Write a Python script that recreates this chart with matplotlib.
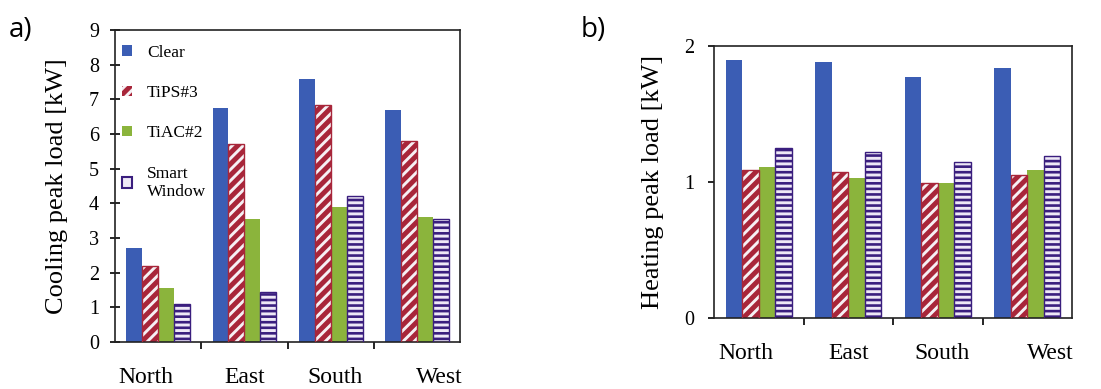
import matplotlib
matplotlib.use("Agg")
import matplotlib.pyplot as plt
from matplotlib.patches import Patch
import numpy as np

plt.rcParams['hatch.linewidth'] = 2.1

directions = ["North", "East", "South", "West"]
series = ["Clear", "TiPS#3", "TiAC#2", "Smart\nWindow"]

cooling_clear = [2.7, 6.75, 7.6, 6.7]
cooling_tips = [2.2, 5.7, 6.85, 5.8]
cooling_tiac = [1.55, 3.55, 3.9, 3.6]
cooling_smart = [1.1, 1.45, 4.2, 3.55]

heating_clear = [1.90, 1.88, 1.77, 1.84]
heating_tips = [1.09, 1.07, 0.99, 1.05]
heating_tiac = [1.11, 1.03, 0.99, 1.09]
heating_smart = [1.25, 1.22, 1.15, 1.19]

cooling_ticks = list(range(0, 10))
heating_ticks = [0, 1, 2]

BLUE = "#3B5DB4"
RED = "#A8263A"
GREEN = "#8BB43C"
PURPLE = "#3A1E7E"
STRIPE_W = "#F6F0F4"
STRIPE_P = "#EEE8F6"

serif = ["Liberation Serif", "DejaVu Serif"]

fig = plt.figure(figsize=(11.01, 3.89), dpi=100)
fig.patch.set_facecolor("white")

ax1 = fig.add_axes([0.1045, 0.1208, 0.3133, 0.8021])
ax2 = fig.add_axes([0.6485, 0.1825, 0.3252, 0.6992])

w = 0.185
offsets = np.array([-1.5, -0.5, 0.5, 1.5]) * w
label_shift = [-0.14, 0.0, 0.05, 0.26]


def draw(ax, vals):
    x = np.arange(len(directions))
    clear, tips, tiac, smart = vals
    ax.bar(x + offsets[0], clear, w, color=BLUE, linewidth=0, zorder=2)
    ax.bar(x + offsets[1], tips, w, color=RED, edgecolor=STRIPE_W,
           hatch="///", linewidth=0, zorder=2)
    ax.bar(x + offsets[1], tips, w, facecolor="none", edgecolor=RED,
           linewidth=1.0, zorder=3)
    ax.bar(x + offsets[2], tiac, w, color=GREEN, linewidth=0, zorder=2)
    ax.bar(x + offsets[3], smart, w, color=PURPLE, edgecolor=STRIPE_P,
           hatch="---", linewidth=0, zorder=2)
    ax.bar(x + offsets[3], smart, w, facecolor="none", edgecolor=PURPLE,
           linewidth=1.0, zorder=3)
    ax.set_xlim(-0.5, 3.5)
    ax.set_xticks(x + np.array(label_shift))
    ax.set_xticklabels(directions, family=serif, fontsize=17)
    ax.tick_params(axis="x", which="major", length=0, pad=18)
    ax.set_xticks([0.5, 1.5, 2.5], minor=True)
    ax.tick_params(axis="x", which="minor", length=5, width=1.2,
                   direction="out")
    for s in ax.spines.values():
        s.set_linewidth(1.2)
        s.set_color("#222222")


draw(ax1, (cooling_clear, cooling_tips, cooling_tiac, cooling_smart))
ax1.set_ylim(0, 9)
ax1.set_yticks(cooling_ticks)
ax1.set_yticklabels([str(t) for t in cooling_ticks], family=serif, fontsize=14.5)
ax1.tick_params(axis="y", direction="inout", length=7, width=1.2, pad=8)
ax1.set_ylabel("Cooling peak load [kW]", family=serif, fontsize=19, labelpad=15)

draw(ax2, (heating_clear, heating_tips, heating_tiac, heating_smart))
ax2.set_ylim(0, 2)
ax2.set_yticks(heating_ticks)
ax2.set_yticklabels([str(t) for t in heating_ticks], family=serif, fontsize=14.5)
ax2.tick_params(axis="y", direction="out", length=4, width=1.2, pad=10)
ax2.set_ylabel("Heating peak load [kW]", family=serif, fontsize=19, labelpad=15)

handles = [
    Patch(facecolor=BLUE, linewidth=0),
    Patch(facecolor=RED, edgecolor=STRIPE_W, hatch="///", linewidth=0),
    Patch(facecolor=GREEN, linewidth=0),
    Patch(facecolor=STRIPE_P, edgecolor=PURPLE, linewidth=1.5),
]
leg = ax1.legend(handles, series, loc="upper left", frameon=False,
                 prop={"family": serif, "size": 12.5},
                 handlelength=0.55, handleheight=0.55, handletextpad=0.9,
                 labelspacing=1.4, borderaxespad=0.0,
                 bbox_to_anchor=(0.0, 0.975))

fig.text(0.008, 0.96, "a)", family="Open Sans", fontsize=20, va="top")
fig.text(0.527, 0.96, "b)", family="Open Sans", fontsize=20, va="top")

fig.savefig("out.png", dpi=100)
